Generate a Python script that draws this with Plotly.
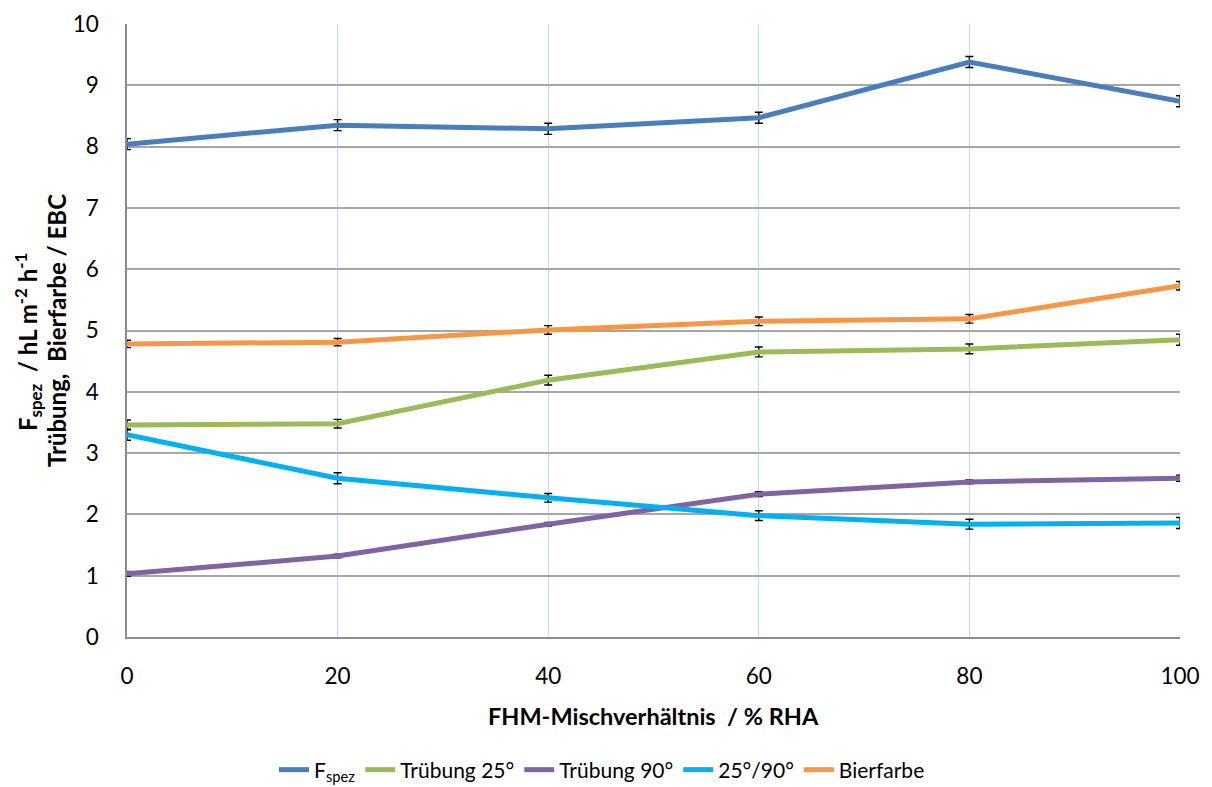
import plotly.graph_objects as go

# FHM mixing ratio (% RHA)
ratio = [0, 20, 40, 60, 80, 100]

f_spez = [8.04, 8.35, 8.29, 8.47, 9.38, 8.74]
truebung_25 = [3.46, 3.48, 4.19, 4.65, 4.70, 4.85]
truebung_90 = [1.03, 1.32, 1.84, 2.33, 2.53, 2.59]
ratio_25_90 = [3.30, 2.59, 2.27, 1.98, 1.84, 1.86]
bierfarbe = [4.78, 4.81, 5.01, 5.15, 5.19, 5.73]

err_f_spez = [0.09, 0.09, 0.09, 0.09, 0.09, 0.09]
err_t25 = [0.08, 0.07, 0.08, 0.08, 0.08, 0.09]
err_t90 = [0.04, 0.03, 0.03, 0.04, 0.03, 0.05]
err_ratio = [0.09, 0.09, 0.07, 0.08, 0.08, 0.09]
err_farbe = [0.06, 0.06, 0.07, 0.07, 0.07, 0.07]

series = [
    ("F<sub>spez</sub>", f_spez, err_f_spez, "#4a7ebb"),
    ("Trübung 25°", truebung_25, err_t25, "#9bbb59"),
    ("Trübung 90°", truebung_90, err_t90, "#8064a2"),
    ("25°/90°", ratio_25_90, err_ratio, "#00b0f0"),
    ("Bierfarbe", bierfarbe, err_farbe, "#f79646"),
]

FONT = "Lato, Liberation Sans, sans-serif"
W, H = 1212, 787
L, R, T, B = 127, 32, 24, 150
PW, PH = W - L - R, H - T - B


def px_x(x):
    """Pixel column -> paper x of the plot area."""
    return (x - L) / PW


def px_y(y):
    """Pixel row -> paper y of the plot area."""
    return (H - B - y) / PH


fig = go.Figure()
for name, vals, errs, color in series:
    fig.add_trace(go.Scatter(
        x=ratio, y=vals, name=name, mode="lines",
        line=dict(color=color, width=5),
        error_y=dict(type="data", array=errs, visible=True,
                     color="black", thickness=1.4, width=4),
    ))

fig.update_layout(
    width=W, height=H,
    margin=dict(l=L, r=R, t=T, b=B, autoexpand=False),
    plot_bgcolor="white", paper_bgcolor="white",
    font=dict(family=FONT, size=22, color="black"),
    showlegend=True,
    legend=dict(orientation="h", x=px_x(602), y=px_y(770), xanchor="center",
                yanchor="middle", font=dict(size=21), tracegroupgap=0),
    xaxis=dict(
        range=[0, 100], tickvals=ratio, ticks="", automargin=False,
        showgrid=True, gridcolor="#c6d7f2", gridwidth=1,
        showline=True, linecolor="#8c8c8c", linewidth=1.5,
        zeroline=False, tickfont=dict(size=22.5), ticklabelstandoff=18,
    ),
    yaxis=dict(
        range=[0, 10], dtick=1, ticks="", automargin=False,
        showgrid=True, gridcolor="#a6a6a6", gridwidth=1.5,
        showline=True, linecolor="#8c8c8c", linewidth=1.5,
        zeroline=False, tickfont=dict(size=22.5), ticklabelstandoff=22,
    ),
    annotations=[
        dict(text="<b>FHM-Mischverhältnis  / % RHA</b>",
             xref="paper", yref="paper", x=px_x(653), y=px_y(716),
             xanchor="center", yanchor="middle", showarrow=False,
             font=dict(size=23.5)),
        dict(text="<b>F<sub>spez</sub>  / hL m<sup>-2</sup> h<sup>-1</sup></b>",
             xref="paper", yref="paper", x=px_x(28), y=px_y(342),
             xanchor="center", yanchor="middle", showarrow=False,
             textangle=-90, font=dict(size=24)),
        dict(text="<b>Trübung,  Bierfarbe / EBC</b>",
             xref="paper", yref="paper", x=px_x(56), y=px_y(331),
             xanchor="center", yanchor="middle", showarrow=False,
             textangle=-90, font=dict(size=24)),
    ],
)

fig.write_html("out.html")
